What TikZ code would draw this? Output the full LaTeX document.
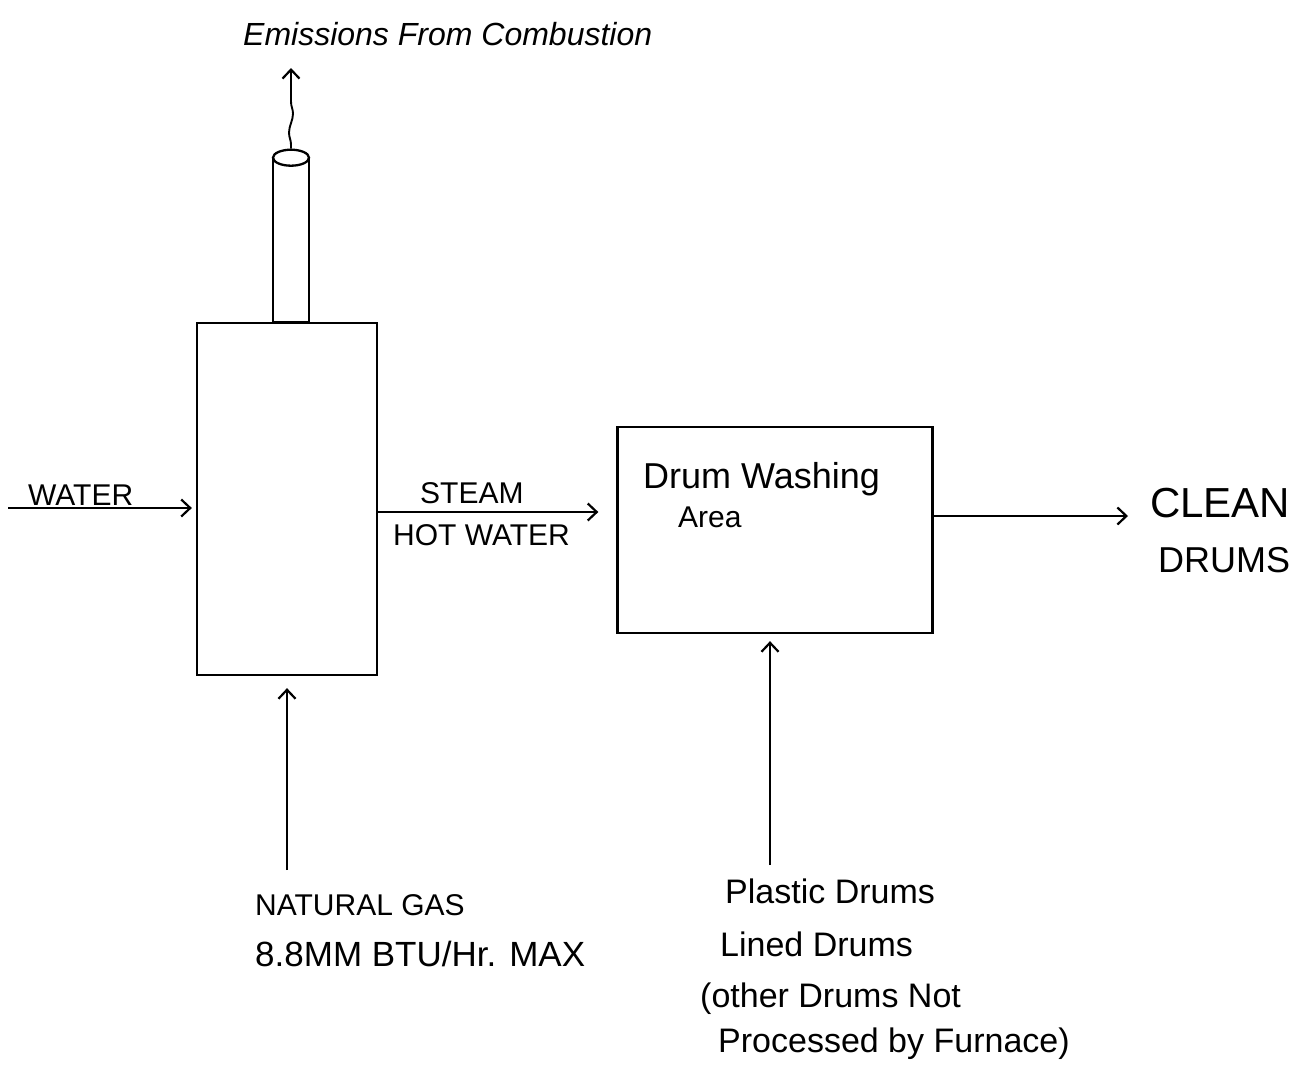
\documentclass[tikz,border=0pt]{standalone}
\usepackage{fontspec}
\setmainfont{Liberation Sans}
\usetikzlibrary{positioning,shapes.geometric,arrows.meta,decorations.pathmorphing}

\begin{document}
\begin{tikzpicture}[
  x=1pt, y=-1pt,
  every node/.style={inner sep=0pt, font=\fontsize{30}{36}\selectfont},
  unit/.style={draw, line width=2.3pt, fill=white},
  arr/.style={-{Straight Barb[length=9pt,width=17pt,line width=2.2pt]},
              line width=1.9pt},
  lbl/.style={anchor=base west},
  hand/.style={anchor=base west, font=\fontsize{34}{40}\selectfont}
]
\useasboundingbox (0,0) rectangle (1307,1079);

%% --- Units ----------------------------------------------------
\node[unit, minimum width=180pt, minimum height=352pt] (furnace) at (287,499) {};
\node[unit, minimum width=36pt, minimum height=163pt, anchor=south] (stack) at (291,323) {};
\node[unit, ellipse, minimum width=36pt, minimum height=16pt] (stacktop) at (stack.north) {};
\node[unit, minimum width=315pt, minimum height=206pt] (washer) at (775,530) {};

%% --- Free ends ------------------------------------------------
\coordinate (emit)     at (291,68);
\coordinate (waterin)  at (8,508);
\coordinate (cleanout) at (1128,516);
\coordinate (gasin)    at (287,870);
\coordinate (drumsin)  at (770,865);

%% --- Connectors -----------------------------------------------
\draw[arr, decorate, decoration={snake, amplitude=2pt, segment length=38pt,
      pre length=4pt, post length=16pt}]
  (stacktop.north) -- (emit);
\draw[arr, shorten >=4pt] (waterin) -- (furnace.west |- waterin);
\draw[arr, shorten >=18pt] ([yshift=-13pt]furnace.east) -- ([yshift=-13pt]furnace.east -| washer.west);
\draw[arr] ([yshift=14pt]washer.east) -- (cleanout);
\draw[arr, shorten >=12pt] (gasin) -- (furnace.south);
\draw[arr, shorten >=7pt] (drumsin) -- (drumsin |- washer.south);

%% --- Labels ---------------------------------------------------
\node[lbl, font=\itshape\fontsize{32}{38}\selectfont] (emislbl) at (243,45) {Emissions From Combustion};
\node[lbl] (waterlbl) at (28,505) {WATER};
\node[lbl] (steamlbl) at (420,503) {STEAM};
\node[lbl] (hotlbl)   at (393,545) {HOT WATER};
\node[hand, font=\fontsize{36}{40}\selectfont] (washlbl) at (643,488) {Drum Washing};
\node[hand, font=\fontsize{30}{36}\selectfont] (arealbl) at (678,527) {Area};
\node[lbl, font=\fontsize{42}{48}\selectfont] (cleanlbl) at (1150,517) {CLEAN};
\node[lbl, font=\fontsize{36}{42}\selectfont] (drumlbl)  at (1158,572) {DRUMS};
\node[lbl] (gaslbl)  at (255,915) {NATURAL GAS};
\node[lbl, font=\fontsize{35}{40}\selectfont] (ratelbl) at (255,966) {8.8MM BTU/Hr. MAX};
\node[hand] (plaslbl) at (725,903)  {Plastic Drums};
\node[hand] (linelbl) at (720,956)  {Lined Drums};
\node[hand] (othrlbl) at (700,1007) {(other Drums Not};
\node[hand] (proclbl) at (718,1052) {Processed by Furnace)};

\end{tikzpicture}
\end{document}
